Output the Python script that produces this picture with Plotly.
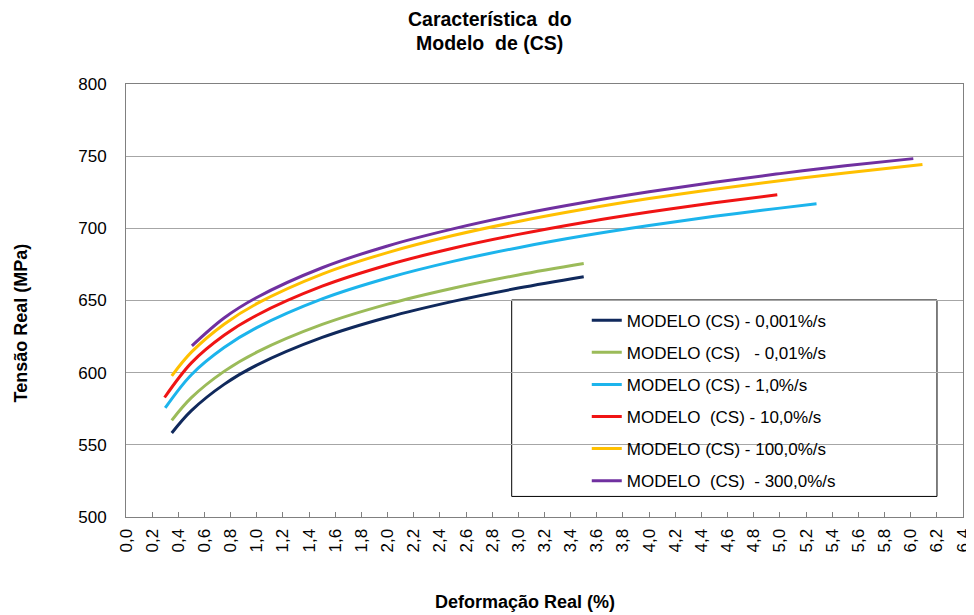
import plotly.graph_objects as go

# Data (strain %, true stress MPa)
x_0001 = [0.35, 0.5, 0.75, 1.0, 1.5, 2.0, 2.5, 3.0, 3.5]
y_0001 = [558.2, 573.7, 591.9, 605.2, 624.4, 638.4, 649.4, 658.6, 666.5]

x_001 = [0.35, 0.5, 0.75, 1.0, 1.5, 2.0, 2.5, 3.0, 3.5]
y_001 = [567.0, 582.7, 600.9, 614.2, 633.4, 647.5, 658.5, 667.7, 675.6]

x_1 = [0.30, 0.5, 0.75, 1.0, 1.5, 2.0, 2.5, 3.0, 3.5, 4.0, 4.5, 5.0, 5.28]
y_1 = [575.6, 598.6, 617.4, 631.2, 651.1, 665.6, 677.1, 686.6, 694.8, 701.9, 708.3, 714.0, 717.0]

x_10 = [0.295, 0.5, 0.75, 1.0, 1.5, 2.0, 2.5, 3.0, 3.5, 4.0, 4.5, 4.98]
y_10 = [582.8, 606.8, 625.9, 639.8, 659.9, 674.6, 686.2, 695.8, 704.1, 711.3, 717.7, 723.3]

x_100 = [0.35, 0.5, 0.75, 1.0, 1.5, 2.0, 2.5, 3.0, 3.5, 4.0, 4.5, 5.0, 5.5, 6.09]
y_100 = [597.8, 614.2, 633.6, 647.8, 668.3, 683.2, 695.0, 704.8, 713.2, 720.6, 727.1, 733.0, 738.4, 744.3]

x_300 = [0.504, 0.75, 1.0, 1.5, 2.0, 2.5, 3.0, 3.5, 4.0, 4.5, 5.0, 5.5, 6.02]
y_300 = [618.6, 637.9, 652.1, 672.7, 687.8, 699.6, 709.5, 717.9, 725.3, 731.9, 737.9, 743.3, 748.3]

NB = "\u00a0"
names = [
    "MODELO (CS) - 0,001%/s",
    "MODELO (CS)" + NB * 3 + "- 0,01%/s",
    "MODELO (CS) - 1,0%/s",
    "MODELO" + NB * 2 + "(CS) - 10,0%/s",
    "MODELO (CS) - 100,0%/s",
    "MODELO" + NB * 2 + "(CS)" + NB * 2 + "- 300,0%/s",
]
colors = ["#10295C", "#9BBB59", "#1CB4EC", "#F01414", "#FFC000", "#7030A0"]
series = [(x_0001, y_0001), (x_001, y_001), (x_1, y_1),
          (x_10, y_10), (x_100, y_100), (x_300, y_300)]

x_ticks = [round(0.2 * i, 1) for i in range(33)]
x_tick_text = [f"{v:.1f}".replace(".", ",") for v in x_ticks]
y_ticks = [500, 550, 600, 650, 700, 750, 800]

title_lines = ["Característica" + NB * 2 + "do", "Modelo" + NB * 2 + "de (CS)"]
x_title = "Deformação Real (%)"
y_title = "Tensão Real (MPa)"

FONT = "Liberation Sans, Arial, sans-serif"

fig = go.Figure()
for (xs, ys), nm, c in zip(series, names, colors):
    fig.add_trace(go.Scatter(
        x=xs, y=ys, name=nm, mode="lines",
        line=dict(color=c, width=3, shape="spline", smoothing=1.0),
        legendgroup=nm,
    ))

# legend frame
fig.add_shape(type="rect", xref="paper", yref="paper",
              x0=0.4608, x1=0.9689, y0=0.0475, y1=0.5012,
              line=dict(color="#000000", width=1), fillcolor="white",
              layer="below")

# chart title (two lines) and axis titles
fig.add_annotation(text="<b>" + title_lines[0] + "</b>", xref="paper", yref="paper",
                   x=0.4345, y=1.1501, xanchor="center", yanchor="middle",
                   showarrow=False, font=dict(size=19.5, family=FONT, color="#000"))
fig.add_annotation(text="<b>" + title_lines[1] + "</b>", xref="paper", yref="paper",
                   x=0.4345, y=1.0947, xanchor="center", yanchor="middle",
                   showarrow=False, font=dict(size=19.5, family=FONT, color="#000"))
fig.add_annotation(text="<b>" + x_title + "</b>", xref="paper", yref="paper",
                   x=0.4764, y=-0.1956, xanchor="center", yanchor="middle",
                   showarrow=False, font=dict(size=18, family=FONT, color="#000"))
fig.add_annotation(text="<b>" + y_title + "</b>", xref="paper", yref="paper",
                   x=-0.1249, y=0.4479, xanchor="center", yanchor="middle",
                   textangle=-90,
                   showarrow=False, font=dict(size=18, family=FONT, color="#000"))

fig.update_layout(
    width=966, height=607,
    margin=dict(l=118, r=11, t=76, b=98),
    paper_bgcolor="white", plot_bgcolor="white",
    font=dict(family=FONT, color="#000000"),
    xaxis=dict(
        range=[0, 6.4], tickvals=x_ticks, ticktext=x_tick_text,
        tickangle=-90, tickfont=dict(size=17, family=FONT, color="#000"),
        ticks="inside", ticklen=5, tickcolor="#808080",
        ticklabelstandoff=4,
        showgrid=False, zeroline=False, automargin=False,
        showline=True, linecolor="#808080", linewidth=1, mirror=True,
    ),
    yaxis=dict(
        range=[500, 800], tickvals=y_ticks,
        tickfont=dict(size=17, family=FONT, color="#000"),
        ticks="", ticklabelstandoff=15,
        showgrid=True, gridcolor="#a6a6a6", gridwidth=1, zeroline=False,
        automargin=False,
        showline=True, linecolor="#808080", linewidth=1, mirror=True,
    ),
    legend=dict(
        x=0.5505, xanchor="left", y=0.495, yanchor="top",
        bgcolor="rgba(0,0,0,0)", borderwidth=0,
        font=dict(size=17, family=FONT, color="#000000"),
        tracegroupgap=7, itemwidth=30,
    ),
    showlegend=True,
)

fig.write_html("out.html")
